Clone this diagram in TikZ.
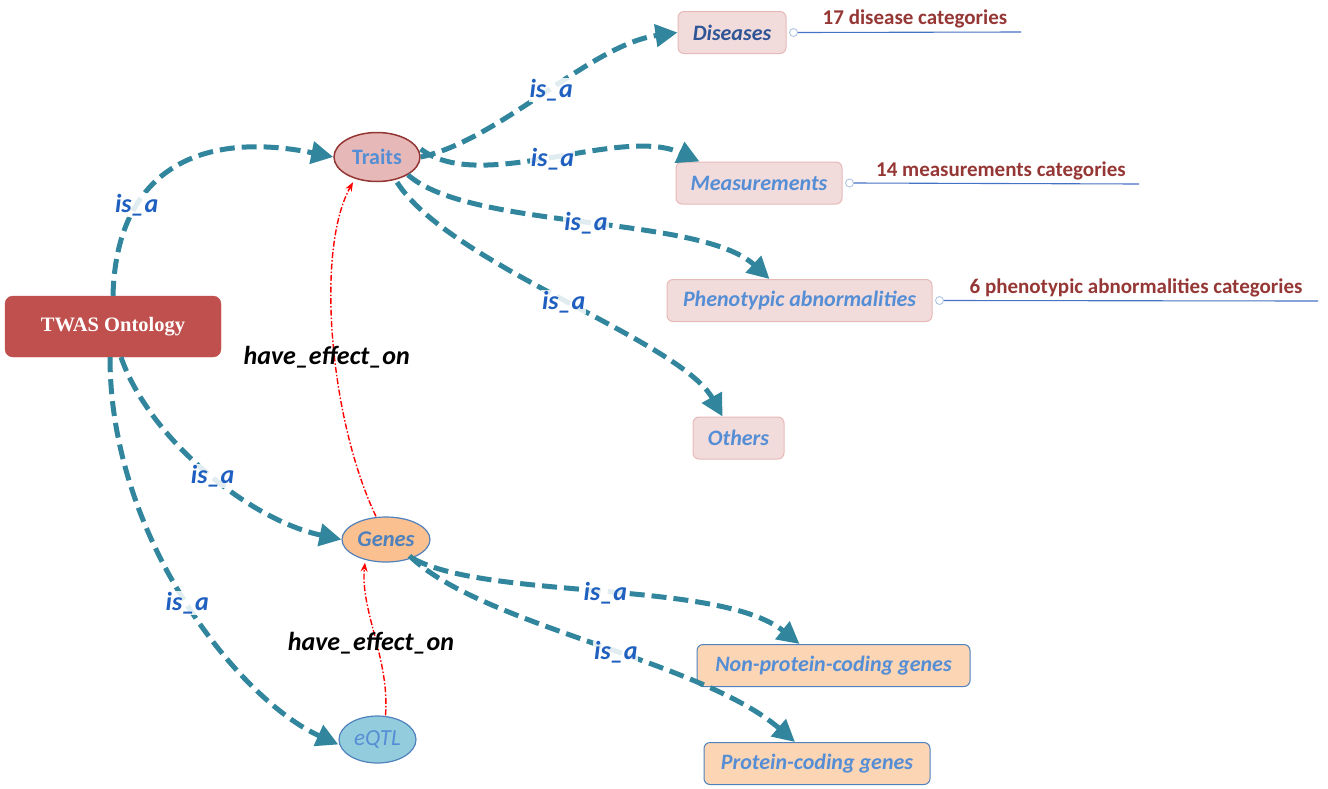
\documentclass[tikz,border=0pt]{standalone}
\usepackage{fontspec}
\setmainfont{Carlito}
\newfontfamily\tnr{Liberation Serif}
\usetikzlibrary{arrows.meta,shapes.geometric}
\definecolor{twasred}{HTML}{C0504D}
\definecolor{traitfill}{HTML}{E6B9B8}
\definecolor{traitborder}{HTML}{943634}
\definecolor{catfill}{HTML}{F2DCDB}
\definecolor{catborder}{HTML}{E6B9B8}
\definecolor{genefill}{HTML}{FAC090}
\definecolor{genesub}{HTML}{FCD5B5}
\definecolor{nodeblue}{HTML}{4F81BD}
\definecolor{eqtlfill}{HTML}{93CDDD}
\definecolor{txtblue}{HTML}{558ED5}
\definecolor{darkblue}{HTML}{2F5597}
\definecolor{teal}{HTML}{31859C}
\definecolor{annred}{HTML}{953735}
\definecolor{isablue}{HTML}{1F5FC0}
\definecolor{annline}{HTML}{4472C4}
\definecolor{annring}{HTML}{A9C0E0}
\tikzset{
  catbox/.style={draw=catborder, fill=catfill, rounded corners=6pt, line width=1pt, minimum height=42pt, inner sep=0pt, font=\fontsize{22}{26}\selectfont\bfseries\itshape, text=txtblue},
  genebox/.style={draw=nodeblue, fill=genesub, rounded corners=6pt, line width=1pt, minimum height=42pt, inner sep=0pt, font=\fontsize{22}{26}\selectfont\bfseries\itshape, text=txtblue},
  isa/.style={-{Triangle[length=22pt,width=22pt]}, draw=teal, line width=5pt, dash pattern=on 15pt off 7pt},
  isalabel/.style={fill=white, fill opacity=0.85, text opacity=1, inner sep=1pt, font=\fontsize{26}{28}\selectfont\bfseries\itshape, text=isablue},
  effect/.style={-{Stealth[length=9pt,width=7pt]}, draw=red, line width=1.4pt, dash pattern=on 6pt off 2pt on 1.5pt off 2pt},
  effectlabel/.style={font=\fontsize{26}{28}\selectfont\bfseries\itshape, text=black, inner sep=1pt},
  ann/.style={font=\fontsize{21}{24}\selectfont\bfseries, text=annred, anchor=south, inner sep=1pt},
  annline/.style={draw=annline, line width=1.1pt},
  ring/.style={circle, draw=annring, fill=white, line width=0.8pt, minimum size=8pt, inner sep=0pt},
}
\begin{document}
\begin{tikzpicture}[x=1pt,y=-1pt]
\useasboundingbox (0,0) rectangle (1328,788);
% main nodes
\node[draw=twasred, fill=twasred, rounded corners=8pt, minimum width=216pt, minimum height=61pt, inner sep=0pt, text=white, font=\tnr\fontsize{20.5}{24}\selectfont\bfseries] (twas) at (113,326.5) {TWAS Ontology};
\node[ellipse, draw=traitborder, fill=traitfill, line width=1.5pt, minimum width=86pt, minimum height=49pt, inner sep=0pt, text=txtblue, font=\fontsize{22}{26}\selectfont\bfseries] (traits) at (377,157) {Traits};
\node[ellipse, draw=nodeblue, fill=genefill, line width=1.2pt, minimum width=88pt, minimum height=45pt, inner sep=0pt, text=nodeblue, font=\fontsize{22.5}{26}\selectfont\bfseries\itshape] (genes) at (386,539.5) {Genes};
\node[ellipse, draw=nodeblue, fill=eqtlfill, line width=1.2pt, minimum width=77pt, minimum height=47pt, inner sep=0pt, text=txtblue, font=\fontsize{23}{26}\selectfont\itshape] (eqtl) at (377.5,739.5) {eQTL};
% category nodes
\node[catbox, minimum width=108pt, text=darkblue] (dis) at (732,32.5) {Diseases};
\node[catbox, minimum width=166pt] (meas) at (759,183) {Measurements};
\node[catbox, minimum width=265pt] (pheno) at (799.5,300.5) {Phenotypic abnormalities};
\node[catbox, minimum width=91pt] (oth) at (738.5,438) {Others};
\node[genebox, minimum width=273pt] (np) at (833.5,665.5) {Non-protein-coding genes};
\node[genebox, minimum width=226pt] (pc) at (817,763.5) {Protein-coding genes};
% annotations
\node[ring] (r1) at ([xshift=7pt]dis.east) {};
\coordinate (e1) at (1021,32);
\draw[annline] (r1.east) -- (e1);
\node[ann] (a1) at (915,29) {17 disease categories};
\node[ring] (r2) at ([xshift=7pt]meas.east) {};
\coordinate (e2) at (1139,184);
\draw[annline] (r2.east) -- (e2);
\node[ann] (a2) at (1001,181) {14 measurements categories};
\node[ring] (r3) at ([xshift=7pt]pheno.east) {};
\coordinate (e3) at (1318,301);
\draw[annline] (r3.east) -- (e3);
\node[ann] (a3) at (1136,298) {6 phenotypic abnormalities categories};
% is_a connectors
\draw[isa] (twas.north) .. controls (116,170) and (200,130) .. (traits.west) node[pos=0.3, isalabel] {is\_a};
\draw[isa] ([xshift=8pt]twas.south) .. controls (150,440) and (250,520) .. (genes.west) node[pos=0.52, isalabel] {is\_a};
\draw[isa] ([xshift=-3pt]twas.south) .. controls (110,540) and (240,700) .. ([yshift=-5pt]eqtl.west) node[pos=0.5, isalabel] {is\_a};
\draw[isa] (traits.east) .. controls (500,140) and (590,45) .. (dis.west) node[pos=0.52, isalabel] {is\_a};
\draw[isa] ([yshift=8pt]traits.east) .. controls (480,195) and (620,125) .. ([xshift=24pt]meas.north west) node[pos=0.5, isalabel] {is\_a};
\draw[isa] (traits.south east) .. controls (470,230) and (700,215) .. ([xshift=-30pt]pheno.north) node[pos=0.5, isalabel] {is\_a};
\draw[isa] ([xshift=20pt]traits.south) .. controls (450,265) and (680,340) .. ([xshift=-16pt]oth.north) node[pos=0.5, isalabel] {is\_a};
\draw[isa] ([xshift=-4pt,yshift=-3pt]genes.south east) .. controls (490,600) and (720,580) .. ([xshift=-34pt]np.north) node[pos=0.5, isalabel] {is\_a};
\draw[isa] ([xshift=-8pt]genes.south east) .. controls (480,625) and (700,660) .. ([xshift=-22pt]pc.north) node[pos=0.55, isalabel] {is\_a};
% have_effect_on
\draw[effect] ([xshift=-10pt]genes.north) .. controls (330,420) and (315,250) .. ([xshift=-24pt]traits.south) node[pos=0.45, xshift=-8pt, effectlabel] {have\_effect\_on};
\draw[effect] ([xshift=8pt]eqtl.north) .. controls (390,660) and (360,610) .. ([xshift=-21pt]genes.south) node[pos=0.45, xshift=-6pt, effectlabel] {have\_effect\_on};
\end{tikzpicture}
\end{document}
